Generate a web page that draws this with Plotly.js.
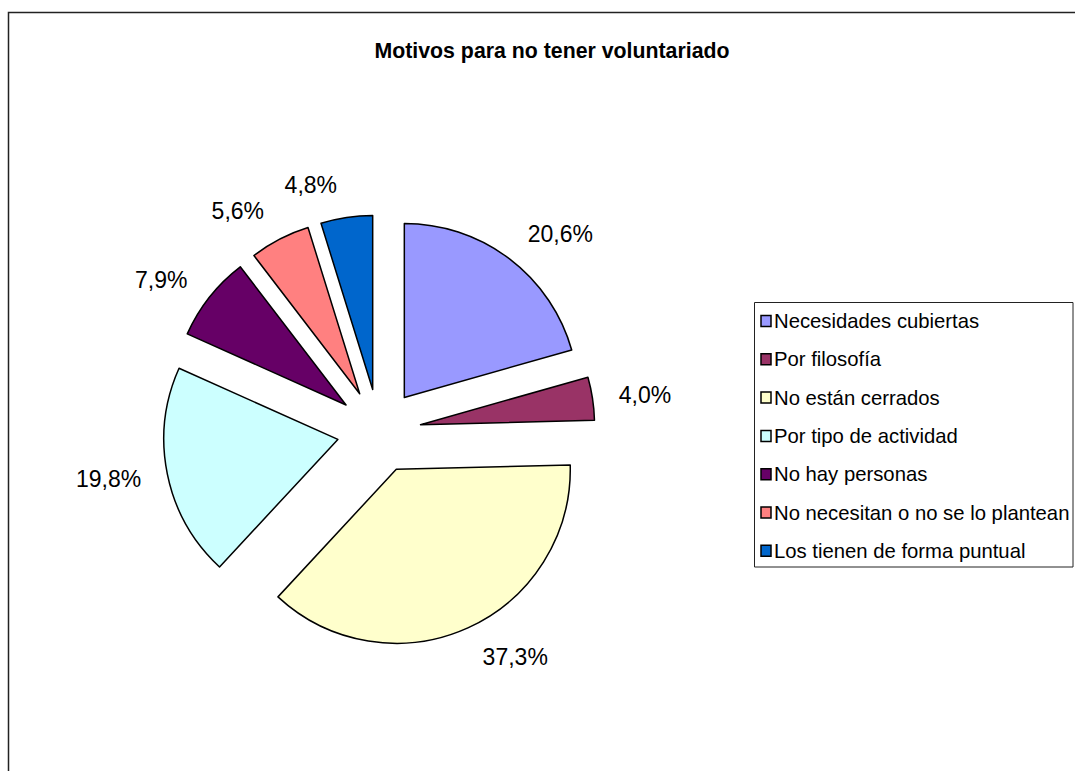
<!DOCTYPE html>
<html>
<head>
<meta charset="utf-8">
<script src="https://cdn.plot.ly/plotly-3.0.1.min.js"></script>
<style>
html,body{margin:0;padding:0;background:#fff;}
#chart{width:1075px;height:771px;}
</style>
</head>
<body>
<div id="chart"></div>
<script>
const categories = [
  "Necesidades cubiertas",
  "Por filosofía",
  "No están cerrados",
  "Por tipo de actividad",
  "No hay personas",
  "No necesitan o no se lo plantean",
  "Los tienen de forma puntual"
];
const values = [20.6, 4.0, 37.3, 19.8, 7.9, 5.6, 4.8];
const colors = ["#9999FF", "#993366", "#FFFFCC", "#CCFFFF", "#660066", "#FF8080", "#0066CC"];
const chartTitle = "Motivos para no tener voluntariado";

const W = 1075, H = 771;
const FONT = "Liberation Sans, Arial, sans-serif";
const px = v => v / W;
const py = v => 1 - v / H;

// pie geometry (pixels)
const cx = 379, cy = 431, R = 174, PULLPX = 42, LABEL_GAP = 20;
const half = (r, p) => r * (1 + p);
const pull1 = PULLPX / R;
const h1 = half(R, pull1);
const R2 = R + LABEL_GAP, pull2 = PULLPX / R2;
const h2 = half(R2, pull2);

const dom = h => ({x: [px(cx - h), px(cx + h)], y: [py(cy + h), py(cy - h)]});

const pieTrace = {
  type: "pie",
  labels: categories,
  values: values,
  sort: false,
  direction: "clockwise",
  rotation: 0,
  pull: categories.map(() => pull1),
  marker: {colors: colors, line: {color: "#000000", width: 1.5}},
  textinfo: "none",
  showlegend: false,
  hoverinfo: "none",
  domain: dom(h1)
};

// label carrier: same pie, slightly larger, invisible, only outside texts
const labelTrace = {
  type: "pie",
  labels: categories,
  values: values,
  sort: false,
  direction: "clockwise",
  rotation: 0,
  pull: categories.map(() => pull2),
  marker: {colors: categories.map(() => "rgba(0,0,0,0)"), line: {width: 0}},
  textposition: "outside",
  texttemplate: "%{percent:.1%}",
  textfont: {family: FONT, size: 23, color: "#000"},
  outsidetextfont: {family: FONT, size: 23, color: "#000"},
  showlegend: false,
  hoverinfo: "none",
  domain: dom(h2)
};

// custom legend
const shapes = [];
const annotations = [];
shapes.push({type: "rect", xref: "paper", yref: "paper",
  x0: px(8.5), x1: px(1200), y0: py(900), y1: py(12.5),
  line: {color: "#222", width: 1.5}, fillcolor: "rgba(0,0,0,0)"});
const lg = {x0: 754.5, x1: 1073, y0: 302.5, y1: 567};
shapes.push({type: "rect", xref: "paper", yref: "paper",
  x0: px(lg.x0), x1: px(lg.x1), y0: py(lg.y1), y1: py(lg.y0),
  line: {color: "#222", width: 1}, fillcolor: "rgba(0,0,0,0)"});
const itemY0 = 321, itemStep = 38.3;
categories.forEach((c, i) => {
  const yc = itemY0 + i * itemStep;
  shapes.push({type: "rect", xref: "paper", yref: "paper",
    x0: px(761), x1: px(771), y0: py(yc + 5.5), y1: py(yc - 5.5),
    line: {color: "#000", width: 1.5}, fillcolor: colors[i]});
  annotations.push({xref: "paper", yref: "paper", x: px(771.5), y: py(yc),
    xanchor: "left", yanchor: "middle", showarrow: false, text: c,
    font: {family: FONT, size: 20.3, color: "#000"}});
});

const layout = {
  width: W, height: H,
  margin: {l: 0, r: 0, t: 0, b: 0},
  paper_bgcolor: "#fff",
  separators: ",.",
  title: {text: "<b>" + chartTitle + "</b>", x: px(552), xanchor: "center",
    y: 1 - 51 / H, yanchor: "middle", yref: "container",
    font: {family: FONT, size: 21.3, color: "#000"}},
  shapes: shapes,
  annotations: annotations
};

Plotly.newPlot("chart", [pieTrace, labelTrace], layout, {displayModeBar: false, staticPlot: true});
</script>
</body>
</html>
